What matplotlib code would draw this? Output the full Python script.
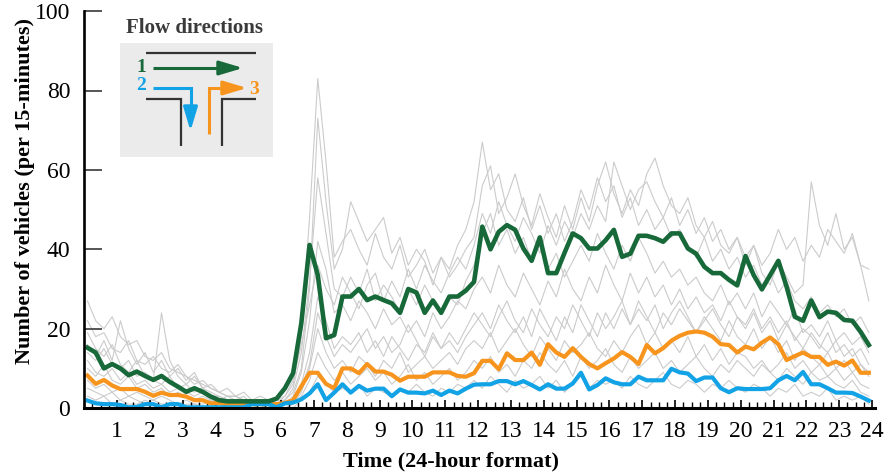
import matplotlib
matplotlib.use("Agg")
import matplotlib.pyplot as plt
import numpy as np

plt.rcParams["font.family"] = ["Liberation Serif", "DejaVu Serif"]

COLORS = {
    "green": "#17693a",
    "orange": "#f7941d",
    "blue": "#12a2e6",
    "gray": "#cbcbcb",
    "road": "#333333",
    "box": "#ebebeb",
}

# 96 readings per day, one every 15 minutes
TIME = np.linspace(0.1, 23.9, 96)

FLOW_1 = [
    15.2, 14.0, 10.0, 11.1, 10.0, 8.3, 9.2, 8.1, 7.1, 8.1, 6.6, 5.4, 4.1, 5.0, 4.1, 2.9,
    2.0, 1.7, 1.7, 1.7, 1.7, 1.7, 1.7, 2.4, 5.0, 8.8, 21.4, 41.1, 33.5, 17.6, 18.4, 28.1,
    28.1, 30.0, 27.2, 28.1, 27.2, 26.4, 24.0, 30.0, 29.1, 24.0, 27.1, 24.0, 28.1, 28.1, 29.6, 31.8,
    45.7, 40.0, 44.4, 46.1, 44.9, 40.2, 37.1, 43.0, 34.0, 34.0, 39.1, 44.0, 42.8, 40.2, 40.2, 42.3,
    44.9, 38.1, 38.9, 43.4, 43.4, 42.8, 41.9, 44.0, 44.0, 40.2, 38.9, 35.6, 34.0, 34.0, 32.3, 30.9,
    38.3, 33.5, 29.9, 33.5, 37.1, 30.6, 23.0, 22.0, 27.1, 22.9, 24.3, 24.0, 22.2, 22.0, 19.2, 15.9,
]
FLOW_2 = [
    1.9, 1.2, 1.0, 1.0, 0.8, 0.2, 0.3, 1.0, 1.0, 0.2, 1.0, 1.0, 0.2, 0.2, 0.2, 0.2,
    0.2, 0.2, 0.2, 0.2, 1.0, 1.0, 1.0, 0.2, 1.2, 1.4, 2.2, 3.7, 6.0, 2.0, 3.9, 6.0,
    3.9, 5.6, 4.4, 4.9, 4.9, 3.0, 4.7, 3.9, 3.9, 3.7, 4.4, 3.3, 4.4, 3.7, 4.9, 5.9,
    6.0, 6.0, 6.8, 6.8, 6.0, 6.8, 5.8, 4.7, 6.0, 4.9, 4.9, 6.2, 8.9, 4.7, 5.8, 7.5,
    6.5, 6.0, 6.0, 7.9, 7.0, 7.0, 7.0, 9.9, 9.0, 8.7, 6.8, 7.7, 7.7, 5.0, 4.0, 5.0,
    4.8, 4.8, 4.8, 5.0, 7.0, 8.1, 7.0, 9.1, 6.0, 6.0, 5.0, 3.9, 3.9, 3.8, 2.9, 1.9,
]
FLOW_3 = [
    8.2, 6.1, 7.1, 5.7, 4.8, 4.8, 4.8, 4.1, 3.1, 3.9, 3.3, 3.3, 2.9, 2.0, 2.0, 1.2,
    1.3, 1.0, 1.0, 1.0, 1.0, 1.0, 1.0, 1.0, 1.3, 2.0, 5.5, 8.9, 8.9, 6.1, 5.0, 10.0,
    10.0, 8.8, 11.1, 9.2, 9.2, 8.4, 6.9, 7.9, 7.9, 7.9, 9.0, 9.0, 9.0, 8.1, 7.9, 8.8,
    11.9, 11.9, 9.8, 13.8, 12.1, 12.1, 14.0, 10.9, 16.1, 14.0, 12.9, 15.1, 12.9, 11.1, 10.0, 11.3,
    12.5, 14.1, 12.9, 11.1, 15.9, 13.8, 15.1, 17.0, 18.2, 19.0, 19.3, 19.0, 18.0, 16.1, 15.9, 14.0,
    15.5, 14.8, 16.5, 17.8, 16.1, 12.1, 13.1, 14.0, 12.9, 12.9, 10.9, 11.7, 10.7, 12.0, 8.9, 8.9,
]

# individual days (thin gray background)
DAY_A = [
    27, 22, 20, 23, 18, 16, 17, 13, 12, 14, 10, 9, 8, 7, 6, 5,
    4, 3, 3, 2, 2, 1, 2, 1, 3, 6, 18, 48, 83, 62, 38, 42,
    45, 40, 36, 44, 38, 35, 41, 33, 36, 40, 34, 38, 35, 41, 45, 52,
    67, 55, 59, 50, 47, 53, 45, 51, 44, 49, 42, 47, 55, 50, 58, 52,
    56, 48, 53, 46, 50, 45, 48, 43, 45, 41, 38, 43, 37, 40, 35, 38,
    33, 36, 31, 34, 29, 32, 27, 25, 28, 24, 26, 23, 25, 21, 23, 19,
]
DAY_B = [
    22, 18, 19, 15, 14, 17, 12, 11, 13, 10, 9, 11, 8, 6, 7, 5,
    4, 3, 3, 2, 2, 2, 1, 2, 2, 4, 10, 30, 73, 52, 35, 40,
    52, 47, 42, 45, 48, 39, 43, 36, 40, 37, 31, 38, 33, 36, 40, 43,
    56, 61, 49, 53, 59, 51, 46, 54, 48, 43, 51, 45, 53, 47, 56, 62,
    54, 49, 55, 51, 59, 63, 56, 51, 49, 53, 46, 43, 47, 41, 39, 43,
    36, 41, 34, 31, 37, 33, 29, 31, 57, 46, 41, 49, 40, 43, 36, 35,
]
DAY_C = [
    19, 15, 13, 16, 11, 9, 12, 8, 7, 24, 12, 8, 6, 8, 5, 4,
    3, 2, 2, 3, 1, 1, 2, 1, 2, 5, 14, 32, 58, 44, 30, 28,
    33, 29, 35, 27, 31, 28, 24, 30, 26, 31, 27, 24, 28, 26, 32, 36,
    44, 49, 41, 45, 39, 43, 37, 41, 35, 39, 33, 37, 41, 37, 44, 39,
    35, 41, 37, 43, 39, 34, 37, 33, 35, 31, 33, 29, 27, 31, 26, 29,
    25, 29, 23, 27, 24, 21, 25, 19, 21, 18, 22, 17, 19, 16, 18, 14,
]
DAY_D = [
    14, 12, 15, 11, 10, 12, 8, 9, 7, 6, 8, 5, 6, 4, 5, 3,
    3, 2, 1, 2, 1, 1, 1, 0, 1, 3, 9, 22, 42, 35, 24, 26,
    22, 27, 24, 20, 25, 21, 23, 19, 22, 18, 24, 20, 23, 27, 25, 30,
    33, 29, 36, 31, 28, 34, 30, 26, 32, 28, 35, 30, 27, 33, 29, 36,
    31, 27, 34, 29, 33, 28, 31, 26, 30, 25, 28, 24, 26, 22, 27, 23,
    21, 25, 20, 23, 19, 22, 17, 20, 18, 15, 19, 14, 16, 13, 15, 11,
]
DAY_E = [
    10, 8, 11, 7, 6, 8, 5, 6, 4, 5, 3, 4, 3, 2, 3, 2,
    1, 2, 1, 1, 0, 1, 0, 1, 1, 2, 6, 14, 28, 22, 15, 18,
    16, 19, 14, 17, 13, 18, 15, 12, 16, 14, 19, 15, 17, 14, 18, 21,
    24, 20, 26, 22, 19, 23, 18, 25, 21, 17, 23, 19, 26, 22, 18, 24,
    20, 25, 21, 27, 23, 19, 24, 21, 25, 22, 19, 23, 20, 17, 22, 18,
    16, 20, 15, 18, 14, 17, 12, 15, 13, 11, 14, 10, 12, 9, 11, 8,
]
DAY_F = [
    7, 5, 6, 4, 5, 3, 4, 3, 2, 3, 2, 1, 2, 1, 1, 2,
    1, 0, 1, 0, 1, 0, 1, 0, 0, 1, 4, 10, 20, 14, 10, 12,
    9, 13, 11, 8, 12, 10, 14, 9, 11, 13, 10, 12, 14, 11, 15, 17,
    15, 19, 14, 17, 20, 16, 13, 18, 15, 12, 17, 14, 16, 19, 15, 13,
    17, 14, 18, 21, 16, 19, 15, 17, 14, 18, 13, 16, 12, 15, 11, 14,
    13, 10, 12, 9, 11, 14, 10, 12, 9, 11, 8, 10, 7, 9, 6, 5,
]
DAY_G = [
    5, 4, 3, 4, 2, 3, 2, 1, 2, 1, 1, 0, 1, 1, 0, 1,
    0, 1, 0, 0, 0, 0, 1, 0, 0, 1, 3, 7, 14, 10, 7, 9,
    6, 8, 10, 7, 9, 6, 8, 11, 7, 9, 6, 8, 10, 7, 9, 12,
    10, 13, 9, 11, 8, 12, 10, 14, 11, 9, 12, 8, 13, 10, 12, 15,
    11, 9, 13, 10, 12, 14, 10, 12, 9, 11, 13, 10, 8, 11, 9, 12,
    10, 8, 11, 9, 7, 10, 8, 6, 9, 7, 8, 6, 5, 7, 4, 3,
]
DAY_H = [
    3, 2, 3, 1, 2, 1, 1, 2, 1, 0, 1, 1, 0, 1, 0, 0,
    1, 0, 0, 1, 0, 0, 0, 1, 0, 0, 2, 4, 8, 6, 4, 5,
    4, 6, 3, 5, 4, 3, 5, 4, 6, 4, 3, 5, 4, 6, 5, 7,
    5, 8, 6, 4, 7, 5, 6, 8, 5, 7, 4, 6, 8, 5, 7, 6,
    7, 5, 8, 6, 5, 7, 9, 6, 5, 7, 6, 4, 6, 5, 7, 5,
    4, 6, 5, 3, 5, 4, 6, 3, 4, 3, 5, 2, 3, 2, 3, 1,
]
DAY_I = [
    16, 13, 17, 12, 22, 15, 11, 14, 9, 12, 8, 10, 7, 9, 5, 6,
    4, 5, 3, 4, 2, 3, 2, 2, 3, 7, 16, 26, 36, 30, 26, 33,
    29, 25, 31, 34, 27, 32, 28, 35, 30, 36, 32, 29, 34, 38, 35, 41,
    49, 44, 52, 46, 42, 48, 44, 39, 46, 41, 47, 43, 49, 45, 51, 47,
    62, 56, 50, 55, 57, 52, 48, 53, 46, 50, 44, 48, 42, 45, 40, 43,
    38, 41, 36, 39, 45, 40, 43, 37, 41, 38, 45, 42, 39, 44, 36, 27,
]
DAY_J = [
    12, 9, 8, 10, 7, 9, 6, 7, 5, 6, 4, 5, 4, 3, 4, 2,
    2, 3, 2, 1, 1, 2, 1, 1, 1, 2, 5, 11, 24, 18, 13, 16,
    14, 17, 20, 15, 18, 14, 16, 21, 17, 13, 18, 15, 19, 16, 20, 24,
    21, 18, 23, 27, 22, 19, 25, 21, 18, 23, 20, 26, 22, 18, 24, 20,
    23, 27, 21, 25, 22, 26, 20, 24, 27, 23, 19, 22, 25, 21, 18, 23,
    20, 24, 19, 22, 17, 21, 18, 15, 19, 16, 14, 17, 13, 15, 11, 9,
]
DAYS = [DAY_A, DAY_B, DAY_C, DAY_D, DAY_E, DAY_F, DAY_G, DAY_H, DAY_I, DAY_J]

HOUR_TICKS = list(range(1, 25))
Y_TICKS = [0, 20, 40, 60, 80, 100]


def draw_flow_legend(fig):
    # small schematic of the T-junction, drawn in its own pixel-like frame
    lax = fig.add_axes([120 / 891, 1 - 157 / 475, 153 / 891, 114 / 475])
    lax.set_xlim(0, 153)
    lax.set_ylim(114, 0)
    lax.set_facecolor(COLORS["box"])
    lax.set_xticks([])
    lax.set_yticks([])
    for side in lax.spines.values():
        side.set_visible(False)

    road = dict(color=COLORS["road"], lw=1.6, solid_capstyle="butt", solid_joinstyle="miter")
    lax.plot([26, 136], [9.5, 9.5], **road)
    lax.plot([26, 61, 61], [56, 56, 103], **road)
    lax.plot([102, 102, 136], [103, 56, 56], **road)

    head = "-|>,head_length=1.1,head_width=0.33"
    flow = dict(lw=2.2, solid_capstyle="butt", solid_joinstyle="miter")

    def arrow(xs, ys, color):
        lax.plot(xs[:-1], ys[:-1], color=color, **flow)
        lax.annotate("", xy=(xs[-1], ys[-1]), xytext=(xs[-2], ys[-2]),
                     arrowprops=dict(arrowstyle=head, color=color, lw=2.2,
                                     mutation_scale=13, shrinkA=0, shrinkB=0))

    arrow([33, 100, 123], [25, 25, 25], COLORS["green"])
    arrow([33, 70.5, 70.5, 70.5], [45, 45, 70, 88], COLORS["blue"])
    arrow([89, 89, 110, 127], [91, 45, 45, 45], COLORS["orange"])

    lax.text(21, 24, "1", color=COLORS["green"], fontsize=14, fontweight="bold", ha="center", va="center")
    lax.text(21, 43, "2", color=COLORS["blue"], fontsize=14, fontweight="bold", ha="center", va="center")
    lax.text(134, 46, "3", color=COLORS["orange"], fontsize=14, fontweight="bold", ha="center", va="center")
    fig.text(194 / 891, 1 - 28 / 475, "Flow directions", fontsize=15, fontweight="bold",
             color="#3a3a3a", ha="center", va="center")


def main():
    fig = plt.figure(figsize=(8.91, 4.75), dpi=100)
    ax = fig.add_axes([84.2 / 891, 1 - 408.1 / 475, 791.2 / 891, 397 / 475])

    for day in DAYS:
        ax.plot(TIME, day, color=COLORS["gray"], lw=0.8, zorder=1)
    ax.plot(TIME, FLOW_3, color=COLORS["orange"], lw=3.0, zorder=3, clip_on=False)
    ax.plot(TIME, FLOW_2, color=COLORS["blue"], lw=3.0, zorder=3, clip_on=False)
    ax.plot(TIME, FLOW_1, color=COLORS["green"], lw=3.3, zorder=4, clip_on=False)

    ax.set_xlim(0, 24.1)
    ax.set_ylim(0, 100)
    ax.set_xticks(HOUR_TICKS)
    ax.set_xticklabels([str(h) for h in HOUR_TICKS])
    ax.set_xticks(np.arange(0, 24.01, 0.25), minor=True)
    ax.set_yticks(Y_TICKS)
    ax.tick_params(axis="x", which="major", direction="in", length=6, width=1.2, color="black",
                   labelsize=17, pad=9)
    ax.tick_params(axis="x", which="minor", direction="in", length=4, width=1.0, color="black")
    ax.tick_params(axis="y", direction="in", length=13, width=1.4, color="#555555",
                   labelsize=17, pad=10)

    ax.spines["top"].set_visible(False)
    ax.spines["right"].set_visible(False)
    ax.spines["left"].set_linewidth(1.9)
    ax.spines["bottom"].set_linewidth(2.2)
    ax.spines["left"].set_zorder(5)
    ax.spines["bottom"].set_zorder(5)

    ax.set_xlabel("Time (24-hour format)", fontsize=16, fontweight="bold")
    ax.set_ylabel("Number of vehicles (per 15-minutes)", fontsize=16, fontweight="bold")
    ax.xaxis.set_label_coords(0.4636, -0.11)
    ax.yaxis.set_label_coords(-0.062, 0.547)

    draw_flow_legend(fig)
    fig.savefig("out.png", dpi=100)
    plt.close(fig)


if __name__ == "__main__":
    main()
